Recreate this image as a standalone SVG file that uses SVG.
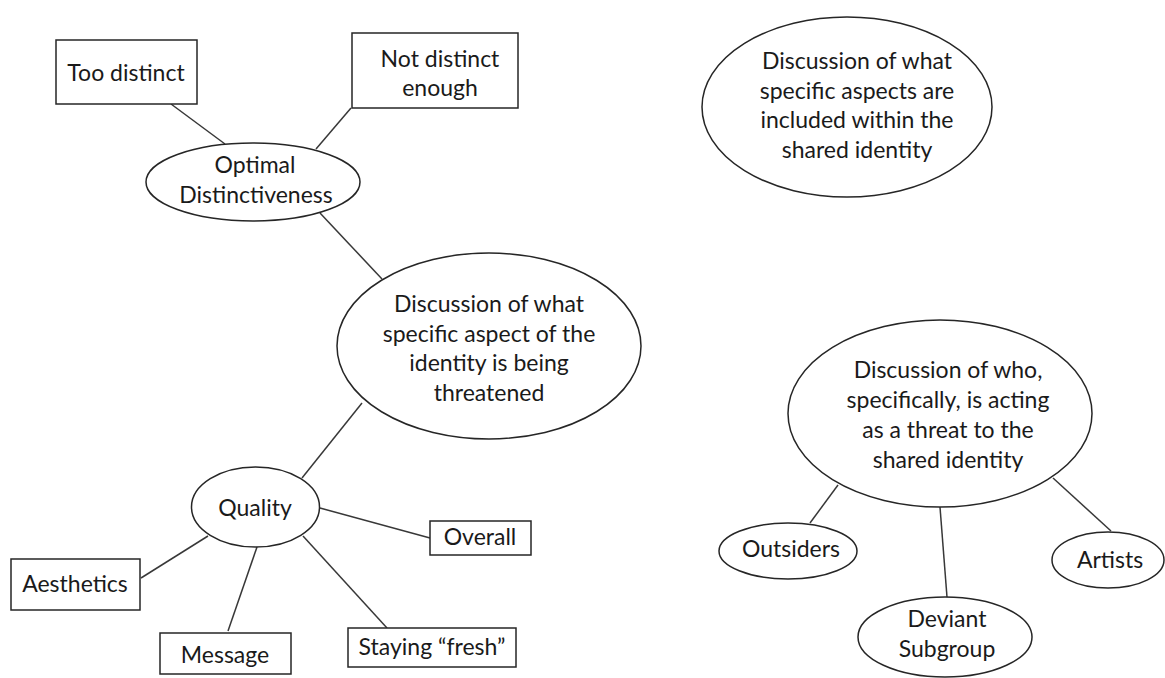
<svg xmlns="http://www.w3.org/2000/svg" width="1165" height="678" viewBox="0 0 1165 678">
  <style>
    .shape { fill: #ffffff; stroke: #262626; stroke-width: 1.5; }
    .link { stroke: #383838; stroke-width: 1.5; fill: none; }
    text { font-family: Lato, "Liberation Sans", sans-serif; font-size: 23px; fill: #1a1a1a; text-anchor: middle; }
  </style>
  <rect width="1165" height="678" fill="#ffffff"/>

  <!-- connectors, drawn first so node fills sit on top -->
  <g id="connectors">
    <line class="link" x1="171" y1="104" x2="225" y2="144"/>
    <line class="link" x1="351" y1="108" x2="316" y2="149"/>
    <line class="link" x1="320" y1="213" x2="382" y2="279"/>
    <line class="link" x1="302" y1="478" x2="362" y2="403"/>
    <line class="link" x1="320" y1="508" x2="430" y2="538"/>
    <line class="link" x1="141" y1="578" x2="208" y2="536"/>
    <line class="link" x1="228" y1="631" x2="257" y2="547"/>
    <line class="link" x1="387" y1="628" x2="303" y2="536"/>
    <line class="link" x1="838" y1="485" x2="810" y2="523"/>
    <line class="link" x1="940" y1="507" x2="947" y2="597"/>
    <line class="link" x1="1053" y1="478" x2="1111" y2="531"/>
  </g>

  <g id="too-distinct">
    <rect class="shape" x="56" y="40" width="141" height="64"/>
    <text x="126" y="81">Too distinct</text>
  </g>

  <g id="not-distinct-enough">
    <rect class="shape" x="352" y="33" width="166" height="75"/>
    <text x="440" y="67">Not distinct</text>
    <text x="440" y="96">enough</text>
  </g>

  <g id="optimal-distinctiveness">
    <ellipse class="shape" cx="253" cy="182" rx="107" ry="39"/>
    <text x="255" y="173">Optimal</text>
    <text x="256" y="203">Distinctiveness</text>
  </g>

  <g id="threatened-aspect">
    <ellipse class="shape" cx="489" cy="346" rx="152" ry="93"/>
    <text x="489" y="312">Discussion of what</text>
    <text x="489" y="342">specific aspect of the</text>
    <text x="489" y="371">identity is being</text>
    <text x="489" y="401">threatened</text>
  </g>

  <g id="quality">
    <ellipse class="shape" cx="255.5" cy="507" rx="64" ry="40"/>
    <text x="255" y="516">Quality</text>
  </g>

  <g id="overall">
    <rect class="shape" x="430" y="521" width="101" height="34"/>
    <text x="480" y="545">Overall</text>
  </g>

  <g id="aesthetics">
    <rect class="shape" x="11" y="559" width="129" height="51"/>
    <text x="75" y="592">Aesthetics</text>
  </g>

  <g id="message">
    <rect class="shape" x="160" y="633" width="131" height="41"/>
    <text x="225" y="663">Message</text>
  </g>

  <g id="staying-fresh">
    <rect class="shape" x="348" y="628" width="168" height="39"/>
    <text x="432" y="655">Staying “fresh”</text>
  </g>

  <g id="included-aspects">
    <ellipse class="shape" cx="847" cy="107" rx="145" ry="90"/>
    <text x="857" y="69">Discussion of what</text>
    <text x="857" y="99">specific aspects are</text>
    <text x="857" y="128">included within the</text>
    <text x="857" y="158">shared identity</text>
  </g>

  <g id="threat-source">
    <ellipse class="shape" cx="940" cy="413.5" rx="152" ry="93.5"/>
    <text x="948" y="378">Discussion of who,</text>
    <text x="948" y="408">specifically, is acting</text>
    <text x="948" y="438">as a threat to the</text>
    <text x="948" y="468">shared identity</text>
  </g>

  <g id="outsiders">
    <ellipse class="shape" cx="788" cy="551" rx="69" ry="28"/>
    <text x="791" y="557">Outsiders</text>
  </g>

  <g id="deviant-subgroup">
    <ellipse class="shape" cx="945" cy="637" rx="87" ry="40"/>
    <text x="947" y="627">Deviant</text>
    <text x="947" y="657">Subgroup</text>
  </g>

  <g id="artists">
    <ellipse class="shape" cx="1108" cy="560" rx="56" ry="28"/>
    <text x="1110" y="568">Artists</text>
  </g>
</svg>
